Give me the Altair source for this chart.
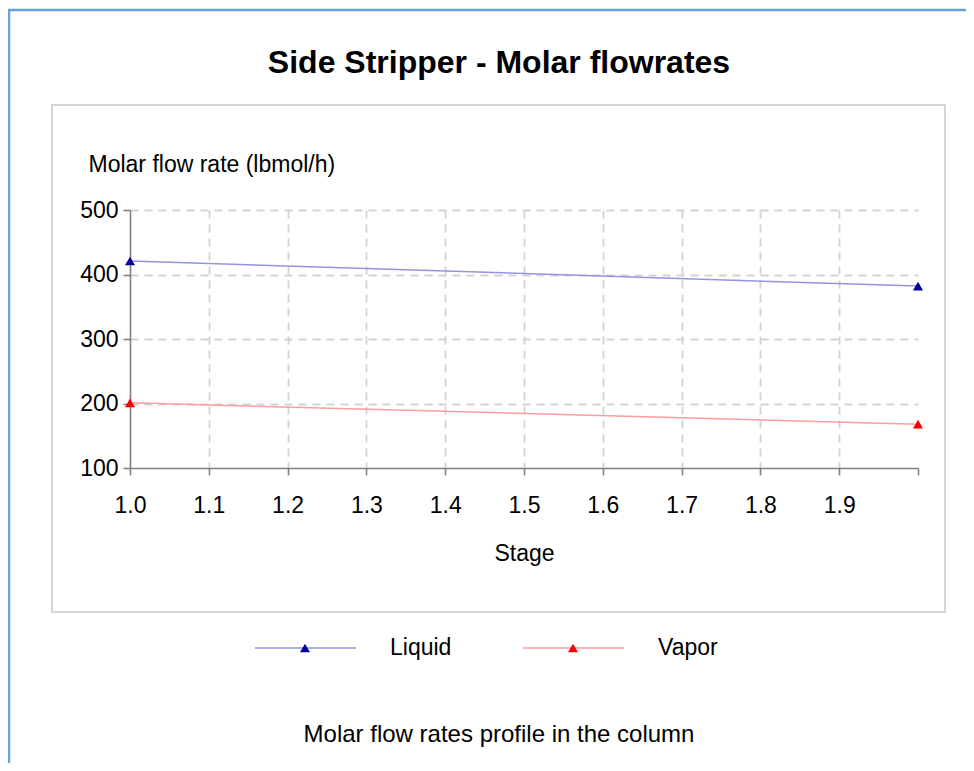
import altair as alt
import pandas as pd

TITLE = "Side Stripper - Molar flowrates"
CAPTION = "Molar flow rates profile in the column"
Y_TITLE = "Molar flow rate (lbmol/h)"
X_TITLE = "Stage"

SERIES = ["Liquid", "Vapor"]
STAGES = [1.0, 2.0]
LIQUID = [421, 382]
VAPOR = [201, 168]

LINE_COLORS = ["#9494e0", "#ff9c9c"]
MARKER_COLORS = ["#000099", "#ff0000"]

X_TICKS = [1.0, 1.05, 1.1, 1.15, 1.2, 1.25, 1.3, 1.35, 1.4, 1.45, 1.5,
           1.55, 1.6, 1.65, 1.7, 1.75, 1.8, 1.85, 1.9, 1.95, 2.0]
Y_TICKS = [100, 150, 200, 250, 300, 350, 400, 450, 500]

FONT = "Liberation Sans"
FS = 23
W, H = 788, 258

df = pd.DataFrame({
    "stage": STAGES + STAGES,
    "flow": LIQUID + VAPOR,
    "series": [SERIES[0]] * len(STAGES) + [SERIES[1]] * len(STAGES),
})

x_major = "abs(datum.value*10 - round(datum.value*10)) < 0.001"
x_enc = alt.X(
    "stage:Q",
    scale=alt.Scale(domain=[1, 2], nice=False, zero=False),
    axis=alt.Axis(
        title=X_TITLE,
        values=X_TICKS,
        labelExpr=f"{x_major} && datum.value < 1.95 ? format(datum.value, '.1f') : ''",
        labelFontSize=FS,
        labelPadding=19,
        labelFlush=False,
        labelOverlap=False,
        tickSize=7,
        gridOpacity={"condition": {"test": f"{x_major} && datum.value > 1.01 && datum.value < 1.95", "value": 1}, "value": 0},
        titleFontSize=FS,
        titleFontWeight="normal",
        titleBaseline="alphabetic",
        titleY=92,
    ),
)
y_enc = alt.Y(
    "flow:Q",
    scale=alt.Scale(domain=[100, 500], nice=False, zero=False),
    axis=alt.Axis(
        title=Y_TITLE,
        values=Y_TICKS,
        labelExpr="datum.value % 100 === 0 ? datum.label : ''",
        labelFontSize=FS,
        labelPadding=5,
        labelOverlap=False,
        tickSize=7,
        gridOpacity={"condition": {"test": "datum.value % 100 === 0 && datum.value > 100", "value": 1}, "value": 0},
        titleAngle=0,
        titleAlign="left",
        titleBaseline="alphabetic",
        titleX=-42,
        titleY=-39,
        titleFontSize=FS,
        titleFontWeight="normal",
    ),
)

one = pd.DataFrame({"k": [0]})

frame = alt.Chart(one).mark_rect(fillOpacity=0, stroke="#c8c8c8", strokeWidth=1.5).encode(
    x=alt.value(-78), x2=alt.value(815), y=alt.value(-105), y2=alt.value(402)
)
blue_top = alt.Chart(one).mark_rule(color="#6a9fe0", strokeWidth=2.5).encode(
    x=alt.value(-123), x2=alt.value(840), y=alt.value(-200)
)
blue_left = alt.Chart(one).mark_rule(color="#6a9fe0", strokeWidth=2.5).encode(
    x=alt.value(-121), y=alt.value(-200), y2=alt.value(560)
)

lines = alt.Chart(df).mark_line(strokeWidth=1.5).encode(
    x=x_enc, y=y_enc,
    stroke=alt.Stroke("series:N", scale=alt.Scale(domain=SERIES, range=LINE_COLORS), legend=None),
)
points = alt.Chart(df).mark_point(shape="triangle-up", filled=True, size=100, opacity=1).encode(
    x="stage:Q", y="flow:Q",
    fill=alt.Fill("series:N", scale=alt.Scale(domain=SERIES, range=MARKER_COLORS), legend=None),
)

caption = alt.Chart(pd.DataFrame({"t": [CAPTION]})).mark_text(
    fontSize=FS + 1, align="center", baseline="middle", font=FONT, color="black"
).encode(text="t:N", x=alt.value(369), y=alt.value(525))

legend_layers = []
LEG_Y = 438
LEG_X0 = [125, 393]
for i, name in enumerate(SERIES):
    ld = pd.DataFrame({"series": [name]})
    x0 = LEG_X0[i]
    legend_layers.append(alt.Chart(ld).mark_rule(color=LINE_COLORS[i], strokeWidth=1.5).encode(
        x=alt.value(x0), x2=alt.value(x0 + 101), y=alt.value(LEG_Y)))
    legend_layers.append(alt.Chart(ld).mark_point(shape="triangle-up", filled=True, size=100, opacity=1,
                                                 color=MARKER_COLORS[i]).encode(
        x=alt.value(x0 + 50), y=alt.value(LEG_Y)))
    legend_layers.append(alt.Chart(ld).mark_text(fontSize=FS, align="left", baseline="middle",
                                                font=FONT, color="black").encode(
        text="series:N", x=alt.value(x0 + 135), y=alt.value(LEG_Y)))

chart = alt.layer(
    blue_top, blue_left, frame, lines, points, caption, *legend_layers
).resolve_scale(
    stroke="independent", fill="independent"
).properties(
    width=W, height=H,
    title=alt.TitleParams(TITLE, fontSize=32, fontWeight="bold", font=FONT, color="black",
                          anchor="middle", frame="group", dx=-25, baseline="alphabetic",
                          offset=-96),
    autosize=alt.AutoSizeParams(type="none"),
    padding={"left": 122, "top": 202, "right": 48, "bottom": 295},
).configure(
    font=FONT
).configure_view(
    stroke=None
).configure_axis(
    domainColor="#808080", domainWidth=1.6,
    tickColor="#808080", tickWidth=1.6,
    gridColor="#d3d3d3", gridWidth=1.8, gridDash=[8, 6],
    labelColor="black", titleColor="black",
    labelFont=FONT, titleFont=FONT,
)

chart.save("out.html", embed_options={"renderer": "svg", "actions": False})
